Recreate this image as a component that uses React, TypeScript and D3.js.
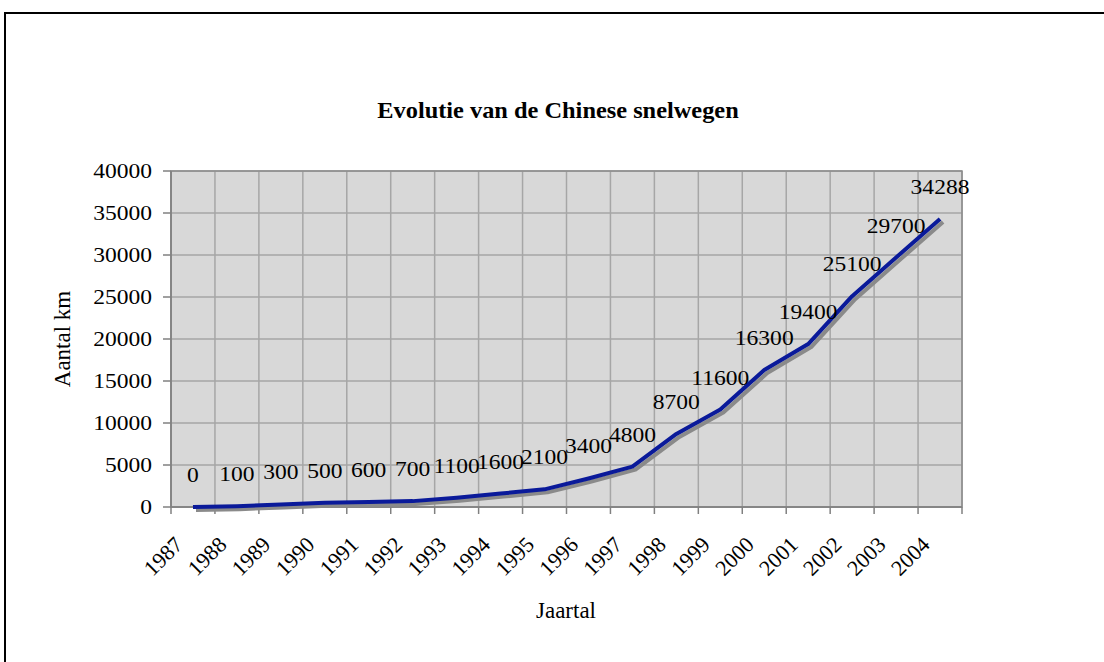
import React from "react";
import * as d3 from "d3";

const years = ["1987","1988","1989","1990","1991","1992","1993","1994","1995","1996","1997","1998","1999","2000","2001","2002","2003","2004"];
const km = [0,100,300,500,600,700,1100,1600,2100,3400,4800,8700,11600,16300,19400,25100,29700,34288];
const yTicks = [0,5000,10000,15000,20000,25000,30000,35000,40000];

const W = 1104, H = 662;
const L = 171, R = 962, T = 171, B = 507;
const FONT = "'Liberation Serif', 'Times New Roman', serif";

export default function App() {
  const x = d3.scaleBand<string>().domain(years).range([L, R]).paddingInner(0).paddingOuter(0);
  const y = d3.scaleLinear().domain([0, 40000]).range([B, T]);
  const cx = (yr: string) => (x(yr) as number) + x.bandwidth() / 2;
  const line = d3.line<number>().x((_, i) => cx(years[i])).y((d) => y(d));
  const pathD = line(km) || "";
  const bounds = years.map((yr) => x(yr) as number).concat([R]);

  return (
    <svg width={W} height={H} style={{ position: "absolute", left: 0, top: 0, background: "#fff" }} fontFamily={FONT}>
      <rect x={5} y={13} width={1200} height={800} fill="#fff" stroke="#000" strokeWidth={2} />
      <text x={558} y={118} textAnchor="middle" fontWeight="bold" fontSize={23} transform="translate(558,0) scale(1.06,1) translate(-558,0)">Evolutie van de Chinese snelwegen</text>

      <rect x={L} y={T} width={R - L} height={B - T} fill="#d8d8d8" />
      {yTicks.map((t) => (
        <line key={"h" + t} x1={L} x2={R} y1={y(t)} y2={y(t)} stroke="#a6a6a6" strokeWidth={1.5} />
      ))}
      {bounds.map((b, i) => (
        <line key={"v" + i} x1={b} x2={b} y1={T} y2={B} stroke="#a6a6a6" strokeWidth={1.5} />
      ))}
      <rect x={L} y={T} width={R - L} height={B - T} fill="none" stroke="#8c8c8c" strokeWidth={1.5} />
      <line x1={L} x2={R} y1={B} y2={B} stroke="#808080" strokeWidth={1.5} />
      <line x1={L} x2={L} y1={T} y2={B} stroke="#808080" strokeWidth={1.5} />

      {yTicks.map((t) => (
        <g key={"yt" + t}>
          <line x1={L - 8} x2={L} y1={y(t)} y2={y(t)} stroke="#808080" strokeWidth={1.5} />
          <text x={152} y={y(t) + 7} textAnchor="end" fontSize={22} transform={`translate(152,0) scale(1.07,1) translate(-152,0)`}>{t}</text>
        </g>
      ))}
      {bounds.map((b, i) => (
        <line key={"xt" + i} x1={b} x2={b} y1={B} y2={B + 7} stroke="#808080" strokeWidth={1.5} />
      ))}
      {years.map((yr) => (
        <text key={"xl" + yr} fontSize={22} textAnchor="end" transform={`translate(${cx(yr) - 9},546) rotate(-45)`}>{yr}</text>
      ))}

      <path d={pathD} fill="none" stroke="#8a8a8a" strokeWidth={4} transform="translate(3,3)" strokeLinejoin="round" />
      <path d={pathD} fill="none" stroke="#0a1a9a" strokeWidth={4} strokeLinejoin="round" />

      {km.map((v, i) => {
        const px = cx(years[i]);
        return (
          <text key={"dl" + i} x={px} y={y(v) - 25} textAnchor="middle" fontSize={22} transform={`translate(${px},0) scale(1.07,1) translate(${-px},0)`}>{v}</text>
        );
      })}

      <text transform="translate(70,339) rotate(-90)" textAnchor="middle" fontSize={23}>Aantal km</text>
      <text x={566} y={618} textAnchor="middle" fontSize={23}>Jaartal</text>
    </svg>
  );
}
